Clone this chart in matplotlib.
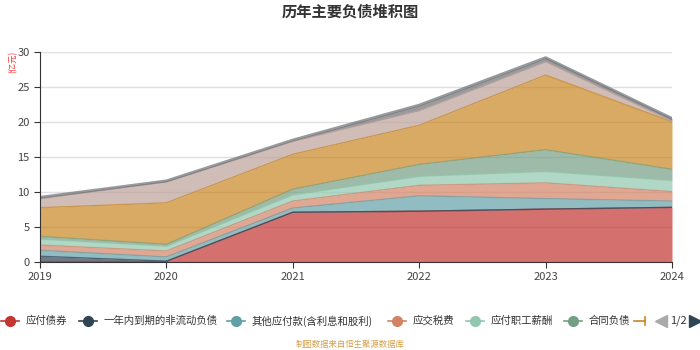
import numpy as np
import matplotlib.pyplot as plt
from matplotlib.lines import Line2D

plt.rcParams['font.family'] = ['Noto Sans CJK SC', 'DejaVu Sans']

#Data (亿元)
years = [2019, 2020, 2021, 2022, 2023, 2024]
names = ['应付债券', '一年内到期的非流动负债', '其他应付款(含利息和股利)', '应交税费',
         '应付职工薪酬', '合同负债', '应付票据及应付账款', '短期借款', '长期借款']
bonds      = [0.0, 0.0, 7.05, 7.2, 7.5, 7.75]
due_1y     = [0.75, 0.05, 0.0, 0.0, 0.0, 0.0]
other_pay  = [0.85, 0.6, 0.6, 2.2, 1.5, 0.9]
tax        = [0.75, 0.85, 1.0, 1.5, 2.25, 1.35]
salary     = [0.85, 0.7, 0.9, 1.3, 1.65, 1.6]
contract   = [0.4, 0.25, 0.8, 1.7, 3.1, 1.6]
acct_pay   = [4.1, 5.95, 5.0, 5.6, 10.7, 6.8]
short_loan = [1.3, 3.0, 1.85, 2.1, 1.9, 0.1]
long_loan  = [0.2, 0.15, 0.2, 0.8, 0.6, 0.4]
series = [bonds, due_1y, other_pay, tax, salary, contract, acct_pay, short_loan, long_loan]
colors = ['#c23531', '#2f4554', '#61a0a8', '#d48265', '#91c7ae', '#749f83',
          '#ca8622', '#bda29a', '#6e7074']

fig = plt.figure(figsize=(7, 3.5), dpi=100)
ax = fig.add_axes([40/700, 1 - 261.5/350, 632/700, 209.5/350])

x = np.arange(len(years))
base = np.zeros(len(years))
for i, (vals, c) in enumerate(zip(series, colors)):
    top = base + np.array(vals)
    ax.fill_between(x, base, top, color=c, alpha=0.7, linewidth=0)
    lw = 2.0 if i == len(series) - 1 else 1.0
    ax.plot(x, top, color=c, linewidth=lw, alpha=0.7)
    base = top

ax.set_xlim(0, len(years) - 1)
ax.set_ylim(0, 30)
ax.set_yticks(range(0, 31, 5))
ax.set_xticks(x)
ax.set_xticklabels([str(y) for y in years])
ax.grid(axis='y', color='#e0e0e0', linewidth=1)
ax.set_axisbelow(True)
for s in ['top', 'right']:
    ax.spines[s].set_visible(False)
for s in ['left', 'bottom']:
    ax.spines[s].set_color('#333333')
ax.tick_params(axis='both', colors='#333333', labelcolor='#444444', labelsize=8, length=4)

fig.text(0.5, 1 - 12/350, '历年主要负债堆积图', ha='center', va='center',
         fontsize=11, fontweight='bold', color='#333333')
fig.text(13/700, 1 - 62/350, '(亿元)', rotation=90, ha='center', va='center',
         fontsize=6, color='#ff3333')

#Legend (page 1/2)
leg_y = 1 - 321/350
marker_x = [10, 88, 236, 397, 475, 573]
for i, mx in enumerate(marker_x):
    fig.add_artist(Line2D([(mx - 9)/700, (mx + 9)/700], [leg_y, leg_y], color=colors[i],
                          linewidth=1.2, transform=fig.transFigure))
    fig.add_artist(Line2D([mx/700], [leg_y], marker='o', markersize=7, color=colors[i],
                          transform=fig.transFigure))
    fig.text((mx + 16)/700, leg_y, names[i], ha='left', va='center', fontsize=7.5, color='#333333')
fig.add_artist(Line2D([(643 - 9)/700, 645/700], [leg_y, leg_y], color=colors[6],
                      linewidth=1.2, transform=fig.transFigure))
fig.add_artist(Line2D([645/700, 645/700], [leg_y - 0.012, leg_y + 0.012], color=colors[6],
                      linewidth=1.2, transform=fig.transFigure))
fig.add_artist(Line2D([661/700], [leg_y], marker='<', markersize=8, color='#aaaaaa',
                      transform=fig.transFigure))
fig.text(678/700, leg_y, '1/2', ha='center', va='center', fontsize=8, color='#333333')
fig.add_artist(Line2D([695/700], [leg_y], marker='>', markersize=8, color='#2f4554',
                      transform=fig.transFigure))

fig.text(0.5, 1 - 344/350, '制图数据来自恒生聚源数据库', ha='center', va='center',
         fontsize=6, color='#d4a04a')

fig.savefig('out.png', dpi=100)
